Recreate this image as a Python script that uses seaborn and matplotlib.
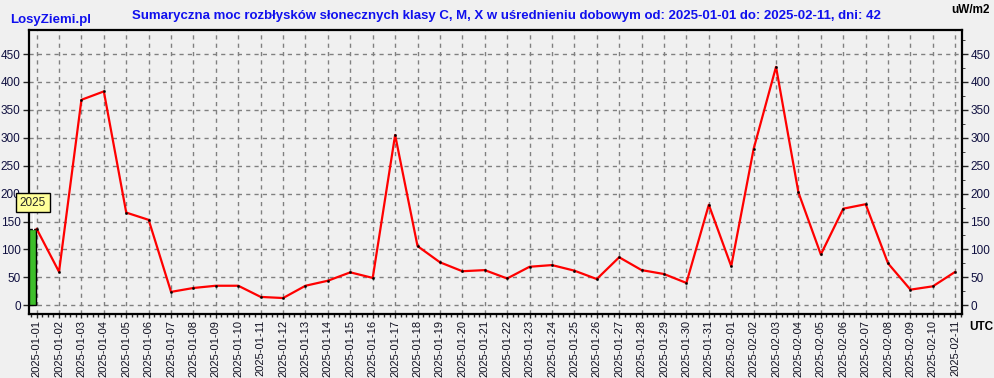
import pandas as pd
import numpy as np
import seaborn as sns
import matplotlib.pyplot as plt
from matplotlib.ticker import MultipleLocator

# daily averaged summary power of C, M, X flares (uW/m2)
days = list(pd.date_range('2025-01-01', '2025-02-11').strftime('%Y-%m-%d'))
power = [137, 60, 368, 383, 166, 153, 24, 31, 35, 35,
         15, 13, 35, 44, 59, 49, 305, 106, 77, 61,
         63, 48, 69, 72, 62, 47, 86, 63, 56, 40,
         180, 70, 280, 427, 202, 91, 173, 181, 75, 28,
         34, 60]
year_label = '2025'
year_value = power[0]

title = ('Sumaryczna moc rozbłysków słonecznych klasy C, M, X w uśrednieniu dobowym '
         'od: 2025-01-01 do: 2025-02-11, dni: 42')

sns.set_style('white', {'axes.facecolor': '#f0f0f0'})
plt.rcParams['font.family'] = ['Liberation Sans', 'DejaVu Sans']

df = pd.DataFrame({'x': np.arange(len(days)), 'power': power})

fig = plt.figure(figsize=(9.95, 3.78), dpi=100, facecolor='#f0f0f0')
ax = fig.add_axes([29 / 995, 64 / 378, 933 / 995, 284 / 378])
ax.set_facecolor('#f0f0f0')

# year marker bar
ax.bar(-0.18, year_value, width=0.3, color='#3dbf2a', edgecolor='black', linewidth=1, zorder=3)
ax.plot([-0.18, -0.18], [year_value, 172], color='white', lw=1, zorder=3)
ax.text(-0.16, 184, year_label, ha='center', va='center', fontsize=8.5, zorder=5,
        bbox=dict(boxstyle='square,pad=0.3', fc='#ffff99', ec='black', lw=1))

sns.lineplot(data=df, x='x', y='power', ax=ax, color='#ff0000', linewidth=1.6,
             marker='s', markersize=1, markeredgecolor='black', markerfacecolor='black', zorder=4)

ax.set_xlim(-0.34, 41.3)
ax.set_ylim(-15.6, 493)
ax.set_xticks(range(len(days)))
ax.set_xticklabels(days, rotation=90, fontsize=8, color='#101020')
ax.xaxis.set_minor_locator(MultipleLocator(0.25))
ax.yaxis.set_minor_locator(MultipleLocator(25))
ax.set_yticks(range(0, 451, 50))
ax.tick_params(axis='y', labelsize=8.5, labelcolor='#101040', left=True, right=True,
               labelleft=True, labelright=True, length=4, width=1, direction='out', pad=2)
ax.tick_params(axis='y', which='minor', right=True, left=False, length=2)
ax.tick_params(axis='x', which='major', bottom=True, length=3, width=1, pad=1.5)
ax.tick_params(axis='x', which='minor', bottom=True, length=2, width=1)
ax.set_xlabel('')
ax.set_ylabel('')

ax.grid(True, which='major', color='#808080', linestyle=(0, (3, 3)), linewidth=1)
for s in ax.spines.values():
    s.set_linewidth(1.6)
    s.set_color('black')

fig.text(506 / 995, 1 - 16 / 378, title, ha='center', va='center', fontsize=9.5,
         fontweight='bold', color='#1010ee')
fig.text(10 / 995, 1 - 20 / 378, 'LosyZiemi.pl', ha='left', va='center', fontsize=9.5,
         fontweight='bold', color='#1010ee')
fig.text(990 / 995, 1 - 10 / 378, 'uW/m2', ha='right', va='center', fontsize=8.5,
         fontweight='bold', color='black')
fig.text(993 / 995, 1 - 327 / 378, 'UTC', ha='right', va='center', fontsize=8.5,
         fontweight='bold', color='black')

fig.savefig('out.png', dpi=100, facecolor='#f0f0f0')
